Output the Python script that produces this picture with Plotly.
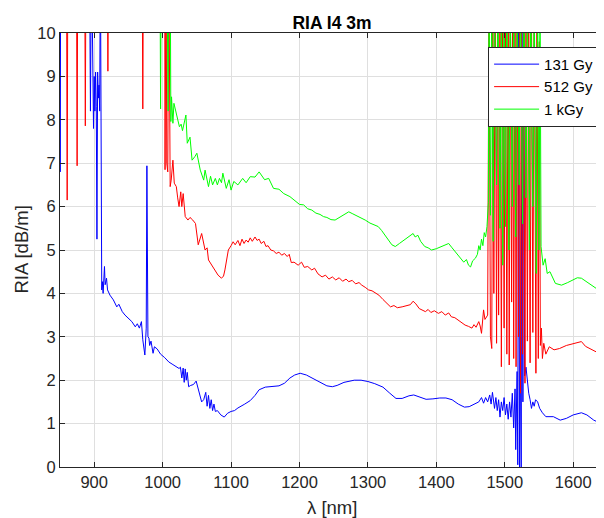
import plotly.graph_objects as go

# ---------------- data ----------------
# values above 10 are off the top of the axis (clipped spikes)
wl_131 = [849, 850.3, 851, 893, 894.5, 896, 899, 900, 901, 902, 903, 904, 905, 906, 907, 908, 909,
          911, 912, 913, 915, 916, 918, 919.5, 923, 928, 933, 936, 941, 945, 950, 955, 960, 963, 966, 969,
          971, 974, 976, 977, 978.5, 980, 981, 983, 986, 988, 992, 997, 1003, 1009, 1015, 1020,
          1024, 1026, 1028, 1030, 1031.5, 1033, 1034.5, 1036, 1038, 1041, 1045, 1049, 1053, 1057, 1060,
          1063, 1065, 1067, 1069, 1071, 1073, 1075, 1077, 1080, 1085, 1090, 1095, 1100, 1105, 1110, 1120,
          1128, 1135, 1141, 1150, 1160, 1170, 1178, 1186, 1193, 1201, 1210, 1220, 1230, 1240, 1248, 1255,
          1265, 1280, 1290, 1300, 1310, 1322, 1332, 1341, 1350, 1360, 1367, 1375, 1385, 1395, 1405, 1414,
          1423, 1432, 1441, 1448, 1455, 1462, 1466, 1469, 1472, 1475, 1478, 1480, 1482, 1485, 1487, 1489,
          1491, 1493, 1495, 1497, 1499, 1501, 1503, 1505, 1507, 1509, 1511, 1513, 1515, 1516, 1518, 1519,
          1520.5, 1521.5, 1523, 1524, 1525, 1526.5, 1527.5, 1529, 1531, 1533, 1535, 1537, 1539, 1541, 1543,
          1545, 1548, 1551, 1555, 1560, 1571, 1581, 1590, 1600, 1612, 1620, 1630, 1638, 1645]
ria_131 = [12, 6.8, 12, 12, 8.2, 12, 7.8, 9.0, 8.2, 9.1, 8.3, 5.25, 9.1, 8.5, 8.8, 8.2, 12,
           4.08, 4.27, 4.0, 4.62, 4.2, 4.35, 4.08, 3.96, 3.85, 3.69, 3.75, 3.58, 3.5, 3.43, 3.35, 3.23, 3.3, 3.2, 3.35,
           2.93, 2.58, 3.2, 6.94, 3.0, 2.97, 2.8, 2.9, 2.62, 2.77, 2.72, 2.6, 2.52, 2.42, 2.36, 2.31,
           2.27, 2.3, 2.05, 2.28, 1.95, 2.26, 2.0, 2.18, 1.85, 1.88, 1.9, 1.98, 1.75, 1.5, 1.55,
           1.72, 1.4, 1.65, 1.35, 1.55, 1.3, 1.45, 1.28, 1.3, 1.2, 1.15, 1.24, 1.28, 1.3, 1.36, 1.45,
           1.53, 1.65, 1.78, 1.84, 1.86, 1.87, 1.93, 2.05, 2.12, 2.16, 2.12, 2.04, 1.95, 1.87, 1.85, 1.88,
           1.95, 2.0, 2.0, 1.97, 1.92, 1.84, 1.7, 1.58, 1.58, 1.64, 1.66, 1.62, 1.56, 1.57, 1.59, 1.59,
           1.55, 1.45, 1.38, 1.39, 1.45, 1.5, 1.6, 1.47, 1.6, 1.5, 1.66, 1.45, 1.72, 1.35, 1.6, 1.3,
           1.55, 1.15, 1.5, 1.3, 1.6, 1.2, 1.45, 1.1, 1.5, 1.15, 1.7, 0.9, 1.8, 0.4, 2.2, 0.05,
           12, 0.0, 3.0, 0.0, 12, 1.5, 12, 2.1, 2.3, 1.95, 1.7, 1.55, 1.35, 1.5, 1.4,
           1.55, 1.5, 1.35, 1.25, 1.16, 1.16, 1.08, 1.12, 1.2, 1.25, 1.2, 1.08, 1.02, 0.99]

wl_512 = [849, 859.5, 860.5, 861.5, 874, 875, 876, 886, 887, 888, 919, 920, 921, 970, 971, 972,
          1003, 1003.5, 1005, 1006, 1007.5, 1009, 1011, 1012.5, 1015, 1017, 1020, 1022, 1024, 1026.5,
          1028, 1030, 1033, 1037, 1040, 1044, 1048, 1052, 1057, 1062, 1065, 1067, 1074, 1081, 1086, 1089,
          1091, 1096, 1100, 1103, 1106, 1110, 1113, 1116, 1119, 1122, 1125, 1128, 1131, 1135, 1138, 1141,
          1144, 1148, 1151, 1154, 1158, 1162, 1166, 1170, 1174, 1178, 1182, 1185, 1188, 1192, 1198, 1203,
          1207, 1212, 1218, 1222, 1227, 1233, 1238, 1243, 1248, 1253, 1258, 1263, 1268, 1272, 1277, 1282,
          1287, 1291, 1296, 1301, 1306, 1311, 1316, 1322, 1328, 1333, 1338, 1343, 1350, 1356, 1362, 1366,
          1370, 1375, 1380, 1384, 1388, 1392, 1397, 1403, 1408, 1413, 1418, 1422, 1427, 1432, 1437, 1442,
          1447, 1452, 1455, 1458, 1462, 1464, 1466, 1468, 1469, 1471, 1474,
          1475, 1477, 1479, 1481, 1482.5, 1484, 1486, 1488, 1489.5, 1491, 1493, 1495, 1497, 1499, 1501,
          1503, 1505, 1506.5, 1508, 1510, 1511.5, 1513, 1515, 1516.5, 1518, 1520, 1521.5, 1523, 1524.5,
          1526, 1527.5, 1529.5, 1531, 1533, 1535, 1537, 1539, 1541, 1543, 1545.5, 1547, 1549, 1550.5,
          1552, 1553.5, 1555, 1557, 1560, 1565, 1572, 1580, 1590, 1600, 1606, 1612, 1618, 1625, 1632,
          1640, 1645]
ria_512 = [12, 12, 6.15, 12, 12, 6.94, 12, 12, 7.86, 12, 12, 9.12, 12, 12, 8.25, 12,
           12, 6.85, 12, 7.0, 6.8, 12, 6.46, 6.61, 7.07, 6.54, 6.46, 6.2, 6.0, 6.34,
           6.0, 6.3, 5.77, 5.69, 5.75, 5.69, 5.61, 5.12, 5.38, 5.0, 5.05, 4.77, 4.61, 4.42, 4.35, 4.4,
           4.54, 5.0, 5.1, 5.19, 5.12, 5.22, 5.1, 5.25, 5.15, 5.23, 5.18, 5.28, 5.2, 5.3, 5.22, 5.25,
           5.15, 5.2, 5.08, 5.1, 5.0, 4.98, 4.92, 4.95, 4.88, 4.92, 4.85, 4.9, 4.71, 4.72, 4.65, 4.72,
           4.6, 4.62, 4.54, 4.58, 4.45, 4.38, 4.42, 4.33, 4.38, 4.31, 4.36, 4.28, 4.33, 4.27, 4.3, 4.22,
           4.25, 4.19, 4.14, 4.08, 4.06, 4.0, 3.96, 3.86, 3.76, 3.69, 3.72, 3.67, 3.69, 3.72, 3.74, 3.82,
           3.76, 3.65, 3.62, 3.58, 3.63, 3.56, 3.6, 3.54, 3.58, 3.5, 3.55, 3.46, 3.44, 3.38, 3.31, 3.27,
           3.24, 3.2, 3.28, 3.22, 3.35, 3.25, 3.08, 3.5, 3.62, 3.4, 3.5,
           3.5, 11, 3.0, 2.73, 11, 4.0, 11, 2.85, 11, 3.5, 11, 2.31, 11, 3.2, 11,
           2.6, 11, 2.35, 11, 3.8, 11, 2.5, 11, 2.31, 11, 3.0, 11, 1.7, 11,
           2.6, 11, 1.93, 11, 2.9, 11, 2.4, 11, 3.1, 11, 2.16, 11, 2.5, 9.8,
           2.8, 3.2, 2.5, 2.85, 2.6, 2.77, 2.7, 2.73, 2.8, 2.84, 2.88, 2.89, 2.78, 2.72, 2.65,
           2.6, 2.57]

wl_1k = [849, 996, 997, 998, 1006, 1007, 1008, 1009, 1011, 1012, 1013, 1015, 1016.5, 1020, 1024.5,
         1027, 1029, 1034, 1036, 1040, 1043, 1047, 1050, 1055, 1060, 1062, 1065, 1067, 1070, 1073, 1077,
         1080, 1083, 1086, 1088, 1093, 1097, 1100, 1104, 1110, 1117, 1122, 1128, 1135, 1141, 1145, 1149,
         1155, 1162, 1170, 1177, 1186, 1196, 1200, 1206, 1212, 1218, 1224, 1230, 1235, 1240, 1246, 1252,
         1258, 1264, 1268, 1272, 1277, 1282, 1288, 1296, 1303, 1310, 1315, 1320, 1325, 1330, 1335, 1340,
         1346, 1352, 1358, 1363, 1366, 1369, 1373, 1377, 1383, 1388, 1393, 1400, 1408, 1413, 1418, 1423,
         1428, 1434, 1440, 1444, 1447, 1450, 1453, 1457, 1460, 1462, 1464, 1466, 1468, 1470, 1472, 1474,
         1476, 1477, 1479, 1481, 1483, 1485, 1488, 1490, 1493, 1495, 1497, 1499, 1501, 1503, 1506, 1508,
         1511, 1513, 1516, 1518, 1521, 1523, 1526, 1528, 1531, 1533, 1536, 1538, 1541, 1543, 1546, 1548,
         1550, 1551.5, 1553, 1556, 1559, 1562, 1566, 1574, 1583, 1592, 1600, 1606, 1612, 1620, 1627,
         1635, 1641, 1645]
ria_1k = [12, 12, 8.25, 12, 12, 8.53, 8.2, 12, 12, 7.96, 8.53, 7.92, 8.38, 8.15, 7.84,
          7.9, 7.75, 8.11, 7.46, 7.6, 7.07, 7.15, 7.23, 6.84, 6.61, 6.84, 6.6, 6.46, 6.7, 6.5, 6.65,
          6.5, 6.65, 6.55, 6.77, 6.42, 6.62, 6.38, 6.58, 6.5, 6.65, 6.55, 6.69, 6.68, 6.8, 6.7, 6.62,
          6.65, 6.42, 6.4, 6.3, 6.23, 6.11, 6.05, 6.04, 5.95, 5.92, 5.85, 5.82, 5.77, 5.75, 5.7, 5.69,
          5.75, 5.8, 5.84, 5.88, 5.84, 5.8, 5.76, 5.69, 5.62, 5.58, 5.54, 5.45, 5.35, 5.23, 5.12, 5.08,
          5.15, 5.22, 5.28, 5.35, 5.38, 5.3, 5.34, 5.2, 5.08, 5.05, 5.0, 5.03, 5.08, 5.12, 5.15, 5.05,
          4.96, 4.85, 4.72, 4.78, 4.65, 4.61, 4.75, 4.81, 4.9, 5.1, 5.0, 5.25, 5.1, 5.4, 5.3, 5.54,
          6.1, 11, 5.8, 11, 5.2, 11, 6.5, 11, 5.5, 11, 4.65, 11, 5.54, 11, 5.0, 11,
          6.0, 11, 5.3, 11, 6.5, 11, 5.6, 11, 6.2, 11, 5.0, 11, 6.0, 11, 4.46, 11,
          5.0, 11, 5.08, 4.65, 4.8, 4.46, 4.5, 4.23, 4.19, 4.25, 4.31, 4.36, 4.35, 4.27, 4.19,
          4.1, 4.0, 3.98]

x_ticks = [900, 1000, 1100, 1200, 1300, 1400, 1500, 1600]
y_ticks = [0, 1, 2, 3, 4, 5, 6, 7, 8, 9, 10]

# ---------------- figure ----------------
FONT = "Liberation Sans, Arial, sans-serif"
AX = "#262626"
GRID = "#dfdfdf"

fig = go.Figure()
fig.add_trace(go.Scatter(x=wl_131, y=ria_131, mode="lines", name="131 Gy",
                         line=dict(color="#0000FF", width=1)))
fig.add_trace(go.Scatter(x=wl_512, y=ria_512, mode="lines", name="512 Gy",
                         line=dict(color="#FF0000", width=1)))
fig.add_trace(go.Scatter(x=wl_1k, y=ria_1k, mode="lines", name="1 kGy",
                         line=dict(color="#00FF00", width=1)))

axis_common = dict(showline=True, linecolor=AX, linewidth=1, mirror="ticks",
                   ticks="inside", ticklen=5, tickcolor=AX, showgrid=True,
                   gridcolor=GRID, gridwidth=1, zeroline=False,
                   tickfont=dict(family=FONT, size=16.5, color=AX))

# the page body adds an 8px offset, so the figure is 8px smaller on each axis
W, H = 596, 510
fig.update_layout(
    width=W, height=H,
    margin=dict(l=52, r=0, t=25, b=51),
    paper_bgcolor="white", plot_bgcolor="white",
    title=dict(text="<b>RIA I4 3m</b>", x=0.5, xref="paper", y=1 - 15 / H,
               yanchor="middle", xanchor="center",
               font=dict(family=FONT, size=17.5, color="black")),
    xaxis=dict(range=[850, 1645], tickvals=x_ticks, **axis_common),
    yaxis=dict(range=[0, 10], tickvals=y_ticks, **axis_common),
    showlegend=True,
    legend=dict(x=0.991, y=0.968, xanchor="right", yanchor="top",
                bgcolor="white", bordercolor=AX, borderwidth=1,
                font=dict(family=FONT, size=15, color="black"),
                tracegroupgap=0, itemwidth=45),
    annotations=[
        dict(text="RIA [dB/m]", xref="paper", yref="paper", x=-0.0726, y=0.5,
             textangle=-90, showarrow=False, xanchor="center", yanchor="middle",
             font=dict(family=FONT, size=18.5, color=AX)),
        dict(text="λ [nm]", xref="paper", yref="paper", x=0.5, y=-0.094,
             showarrow=False, xanchor="center", yanchor="middle",
             font=dict(family=FONT, size=18.5, color=AX)),
    ],
)

fig.write_html("out.html")
